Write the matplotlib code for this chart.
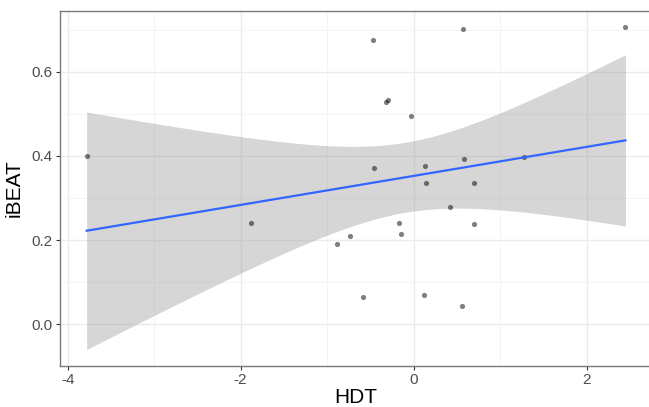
import matplotlib
matplotlib.use("Agg")
import matplotlib.pyplot as plt
import numpy as np

plt.rcParams['font.family'] = ['Liberation Sans', 'DejaVu Sans']

# HDT vs iBEAT values
hdt = [-3.78, -1.88, -0.47, 0.57, 2.45, -0.32, -0.29, -0.03, -0.46, 0.13,
       0.58, 1.28, 0.14, 0.70, 0.42, -0.17, 0.70, -0.15, -0.74, -0.88,
       -0.59, 0.12, 0.56]
ibeat = [0.400, 0.240, 0.675, 0.701, 0.706, 0.527, 0.532, 0.496, 0.372, 0.375,
         0.392, 0.398, 0.335, 0.336, 0.278, 0.241, 0.239, 0.215, 0.209, 0.191,
         0.066, 0.070, 0.043]

x_ticks = [-4, -2, 0, 2]
y_ticks = [0.0, 0.2, 0.4, 0.6]

x = np.array(hdt)
y = np.array(ibeat)
n = len(x)

# linear fit with 95% confidence band (like geom_smooth(method='lm'))
slope, intercept = np.polyfit(x, y, 1)
resid = y - (slope * x + intercept)
s = np.sqrt(np.sum(resid ** 2) / (n - 2))
sxx = np.sum((x - x.mean()) ** 2)
t_crit = 2.0796  # t(0.975, df=21)
xs = np.linspace(x.min(), x.max(), 80)
ys = slope * xs + intercept
se = s * np.sqrt(1 / n + (xs - x.mean()) ** 2 / sxx)

fig = plt.figure(figsize=(6.49, 4.07), dpi=100)
ax = fig.add_axes([0.092, 0.1017, 0.913, 0.871])

ax.fill_between(xs, ys - t_crit * se, ys + t_crit * se, color='#999999', alpha=0.4, linewidth=0, zorder=2)
ax.scatter(x, y, s=14, color='black', alpha=0.5, linewidths=0, zorder=3)
ax.plot(xs, ys, color='#3366FF', linewidth=1.6, zorder=4)

ax.set_xlim(-4.092, 2.76)
ax.set_ylim(-0.098, 0.744)
ax.set_xticks(x_ticks)
ax.set_xticklabels([str(v) for v in x_ticks])
ax.set_yticks(y_ticks)
ax.set_yticklabels([f'{v:.1f}' for v in y_ticks])
ax.set_xticks([-3, -1, 1], minor=True)
ax.set_yticks([0.1, 0.3, 0.5, 0.7], minor=True)
ax.grid(True, which='major', color='#EBEBEB', linewidth=1.0, zorder=0)
ax.grid(True, which='minor', color='#F3F3F3', linewidth=0.6, zorder=0)
ax.set_axisbelow(True)

ax.tick_params(which='major', length=3, width=0.8, color='#333333', labelsize=11,
               labelcolor='#4D4D4D', pad=2)
ax.tick_params(which='minor', length=0)
for sp in ax.spines.values():
    sp.set_color('#7A7A7A')
    sp.set_linewidth(1.0)

ax.set_xlabel('HDT', fontsize=15, labelpad=1)
ax.set_ylabel('iBEAT', fontsize=15, labelpad=6)

fig.savefig('out.png', dpi=100)
